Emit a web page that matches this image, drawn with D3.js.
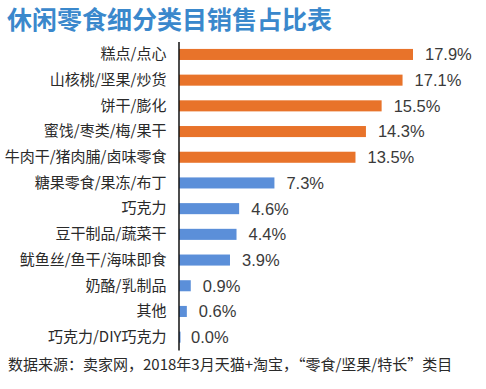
<!DOCTYPE html>
<html>
<head>
<meta charset="utf-8">
<script src="https://cdn.jsdelivr.net/npm/d3@7"></script>
<style>
  body { margin: 0; background: #fff; }
  svg { display: block; font-family: "Liberation Sans", "Noto Sans CJK SC", sans-serif; }
</style>
</head>
<body>
<svg id="chart"></svg>
<script>
// 数据
const categories = [
  "糕点/点心", "山核桃/坚果/炒货", "饼干/膨化", "蜜饯/枣类/梅/果干",
  "牛肉干/猪肉脯/卤味零食", "糖果零食/果冻/布丁", "巧克力", "豆干制品/蔬菜干",
  "鱿鱼丝/鱼干/海味即食", "奶酪/乳制品", "其他", "巧克力/DIY巧克力"
];
const values = [17.9, 17.1, 15.5, 14.3, 13.5, 7.3, 4.6, 4.4, 3.9, 0.9, 0.6, 0.0];
// 前五类为橙色，其余为蓝色
const groups = ["top", "top", "top", "top", "top", "rest", "rest", "rest", "rest", "rest", "rest", "rest"];

const W = 486, H = 389;
const svg = d3.select("#chart").attr("width", W).attr("height", H);

const color = d3.scaleOrdinal().domain(["top", "rest"]).range(["#e8732a", "#5b8fd9"]);

const x0 = 179;
const x = d3.scaleLinear().domain([0, 17.9]).range([x0, x0 + 234]);
const y = d3.scaleBand().domain(categories).range([41.6, 350]).paddingInner(0.57).paddingOuter(0.285);

// 标题
svg.append("text")
  .attr("x", 7)
  .attr("y", 29)
  .attr("fill", "#3a88cc")
  .attr("font-size", 25)
  .attr("font-weight", "bold")
  .attr("font-family", "'Noto Sans CJK SC', sans-serif")
  .text("休闲零食细分类目销售占比表");

// 柱子
const rows = categories.map((c, i) => ({ name: c, value: values[i], group: groups[i] }));

svg.append("g")
  .selectAll("rect")
  .data(rows)
  .join("rect")
  .attr("x", x0)
  .attr("y", d => y(d.name))
  .attr("width", d => Math.max(x(d.value) - x0, 1.5))
  .attr("height", y.bandwidth())
  .attr("fill", d => color(d.group));

// 纵轴线
const yAxis = svg.append("g")
  .attr("transform", `translate(${x0 - 0.5},0)`)
  .call(d3.axisLeft(y).tickSize(0).tickPadding(12));
yAxis.select(".domain").attr("stroke", "#111").attr("stroke-width", 1.5);
yAxis.selectAll("text")
  .attr("font-size", 15)
  .attr("fill", "#2a2a2a")
  .attr("font-family", "'Noto Sans CJK SC', sans-serif");

// 数值标签
svg.append("g")
  .selectAll("text")
  .data(rows)
  .join("text")
  .attr("x", d => x(d.value) + 12)
  .attr("y", d => y(d.name) + y.bandwidth() / 2)
  .attr("dy", "0.36em")
  .attr("font-size", 16.5)
  .attr("fill", "#3a3a3a")
  .text(d => d.value.toFixed(1) + "%");

// 数据来源
svg.append("text")
  .attr("x", 8)
  .attr("y", 370)
  .attr("font-size", 15)
  .attr("fill", "#2a2a2a")
  .attr("font-family", "'Noto Sans CJK SC', sans-serif")
  .text("数据来源：卖家网，2018年3月天猫+淘宝，“零食/坚果/特长”类目");
</script>
</body>
</html>
